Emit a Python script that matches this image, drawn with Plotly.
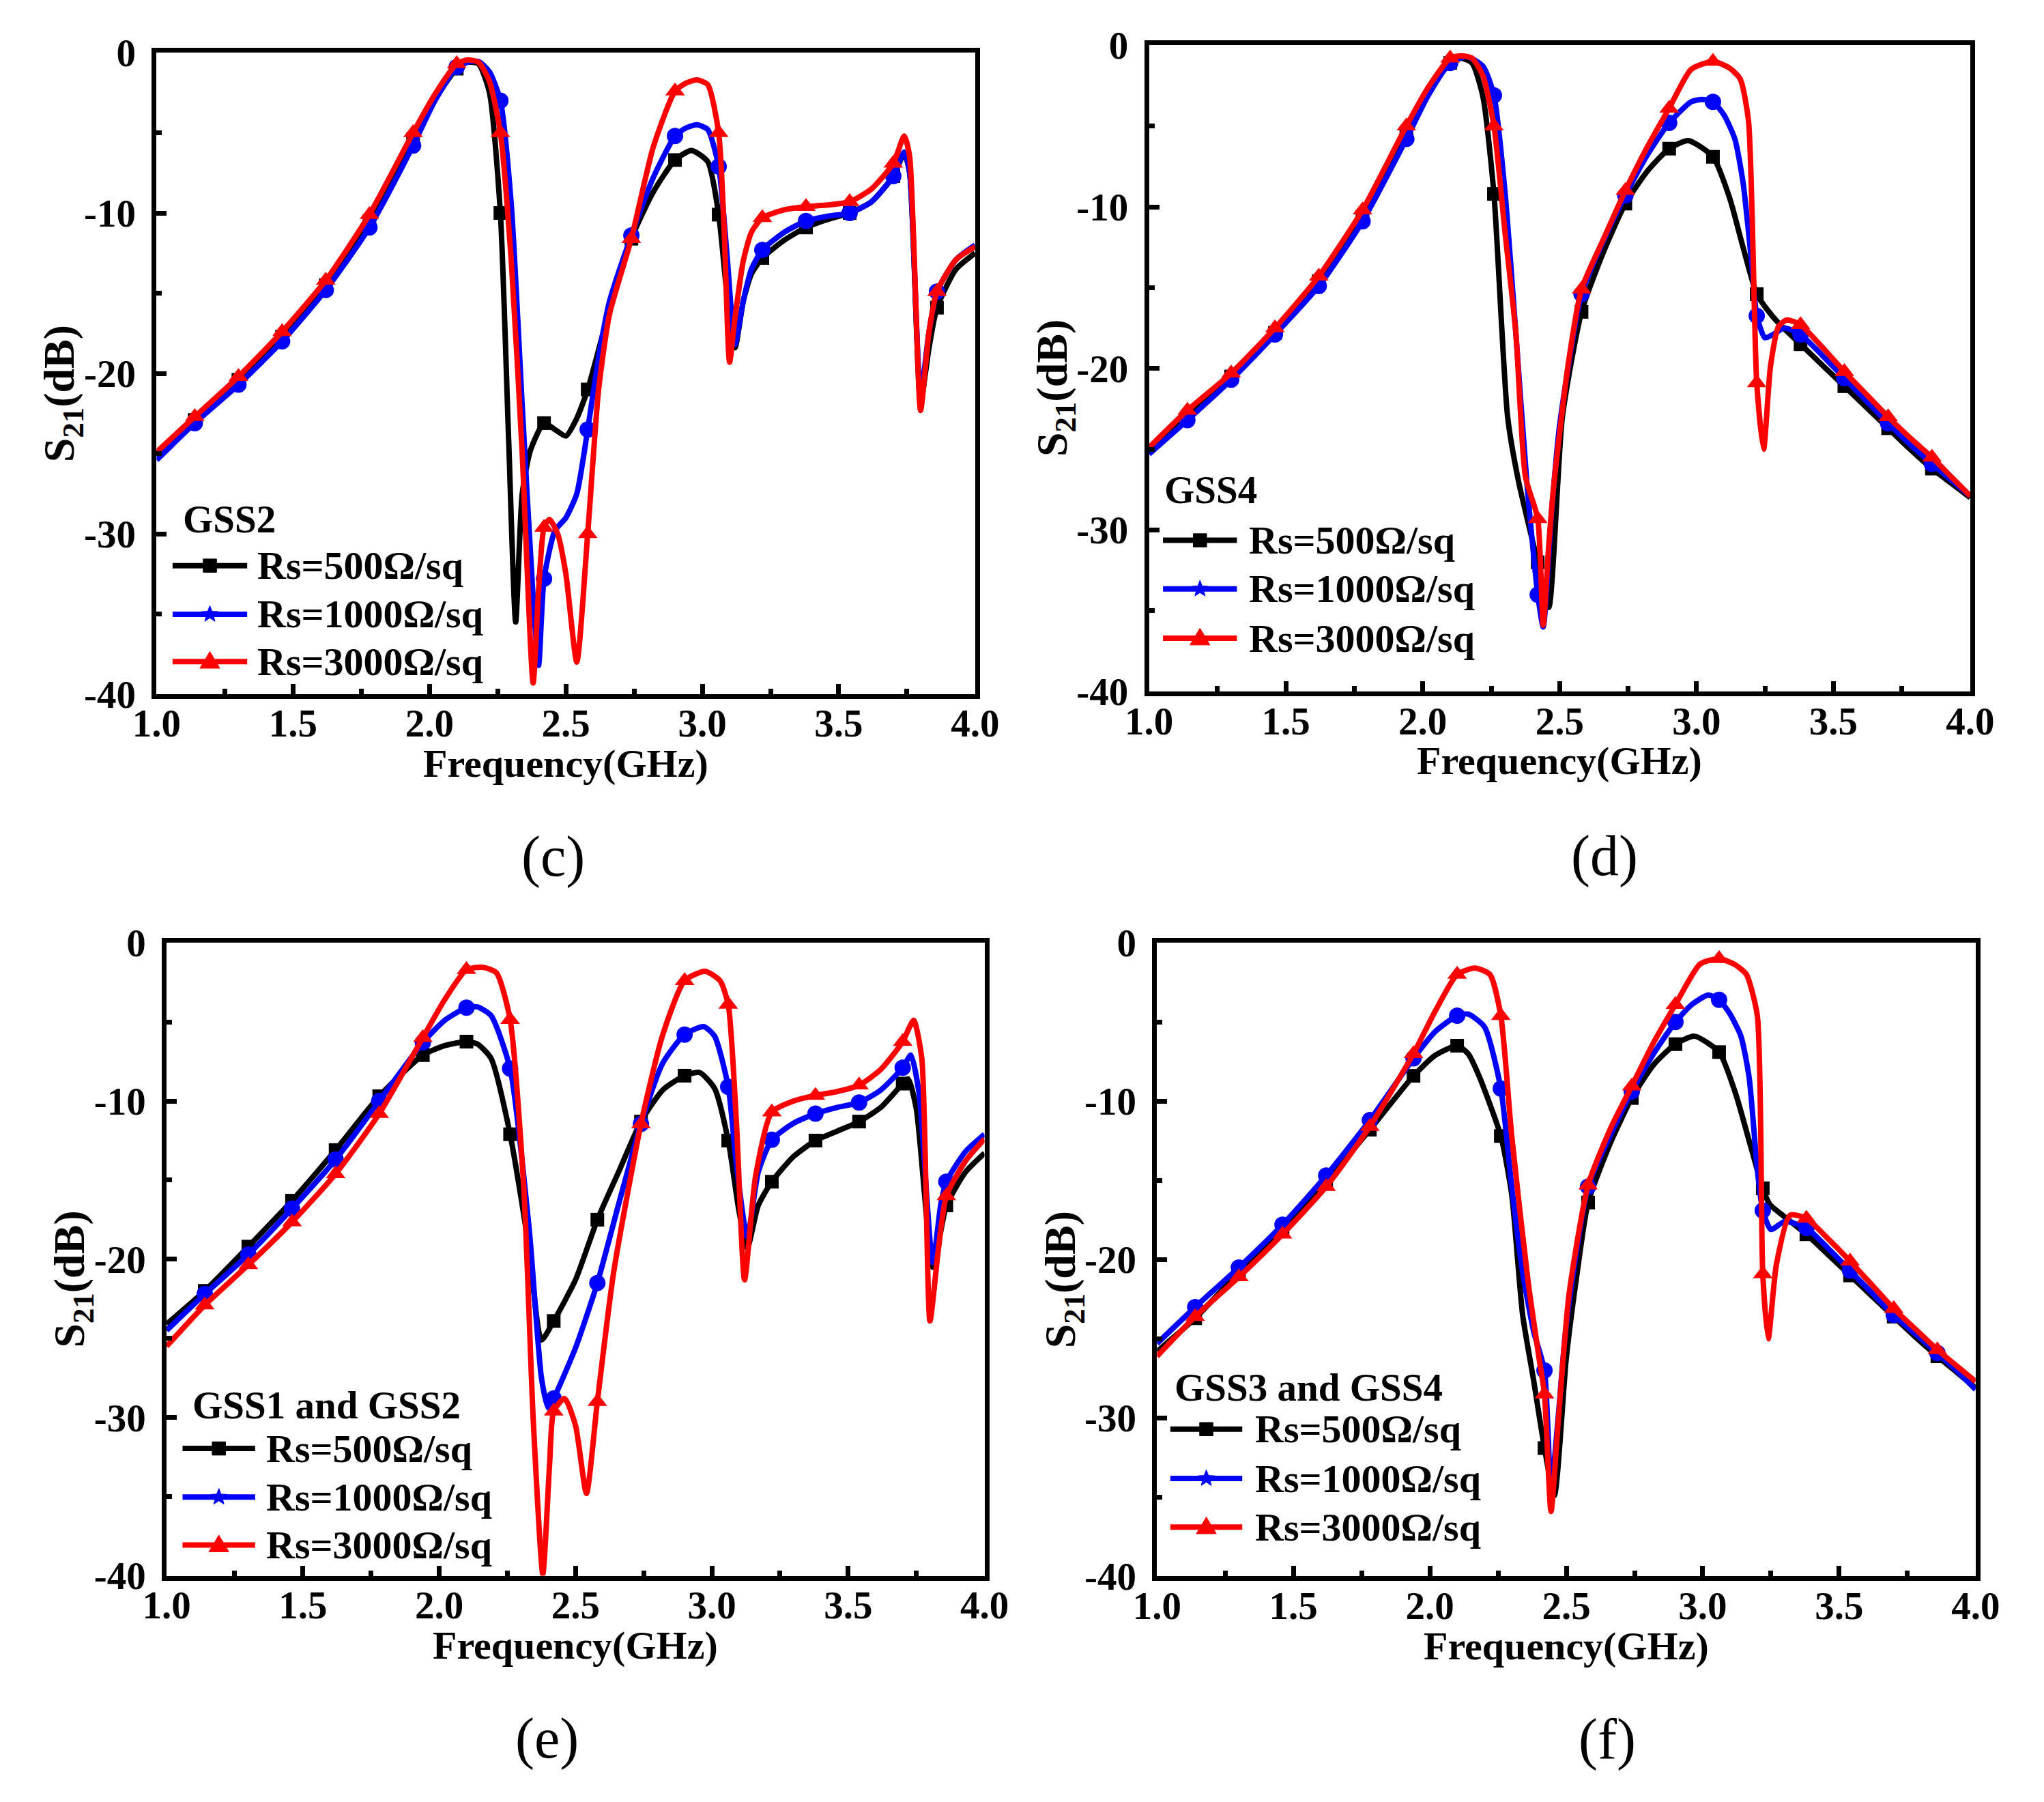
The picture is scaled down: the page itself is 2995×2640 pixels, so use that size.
"""
S21 vs frequency for four graphene sheet configurations, three sheet resistances each
"""
import numpy as np
import plotly.graph_objects as go

W, H = 2995, 2640
PAGE_MARGIN = 8  # the html body margin shifts the figure by this many px
FONT = "Liberation Serif"

# Frequencies (GHz) where the symbols sit on every curve
MARKER_F = [1.14, 1.30, 1.46, 1.62, 1.78, 1.94, 2.10, 2.26, 2.42, 2.58,
            2.74, 2.90, 3.06, 3.22, 3.38, 3.54, 3.70, 3.86]

X_TICKS = [1.0, 1.5, 2.0, 2.5, 3.0, 3.5, 4.0]
X_TICK_TEXT = ["1.0", "1.5", "2.0", "2.5", "3.0", "3.5", "4.0"]
Y_TICKS = [-40, -30, -20, -10, 0]
Y_TICK_TEXT = ["-40", "-30", "-20", "-10", "0"]

# ---- (c) GSS2 ----
F_C_500 = [1.00, 1.14, 1.30, 1.46, 1.62, 1.78, 1.94, 2.02, 2.10, 2.14, 2.18, 2.22, 2.26, 2.29, 2.316, 2.34,
           2.37, 2.42, 2.46, 2.50, 2.54, 2.58, 2.66, 2.74, 2.82, 2.90, 2.96, 3.02, 3.06, 3.09, 3.12, 3.15,
           3.18, 3.22, 3.30, 3.38, 3.46, 3.54, 3.62, 3.70, 3.74, 3.76, 3.80, 3.83, 3.86, 3.93, 4.00]
S_C_500 = [-25.0, -22.9, -20.4, -17.7, -14.5, -10.5, -5.4, -2.9, -1.0, -0.6, -0.7, -2.5, -10.0, -24.0, -35.5, -27.5,
           -24.8, -23.1, -23.5, -23.9, -22.8, -21.0, -16.0, -11.6, -8.7, -6.7, -6.1, -6.8, -10.1, -15.0, -18.4, -15.5,
           -13.8, -12.8, -11.7, -10.9, -10.4, -10.0, -9.3, -7.7, -6.3, -7.5, -21.8, -18.5, -15.9, -13.5, -12.5]
F_C_1000 = [1.00, 1.14, 1.30, 1.46, 1.62, 1.78, 1.94, 2.02, 2.10, 2.14, 2.18, 2.22, 2.26, 2.30, 2.34, 2.38,
            2.40, 2.42, 2.46, 2.50, 2.54, 2.58, 2.62, 2.66, 2.74, 2.82, 2.90, 2.94, 2.98, 3.02, 3.06, 3.09,
            3.12, 3.15, 3.18, 3.22, 3.30, 3.38, 3.46, 3.54, 3.62, 3.70, 3.74, 3.76, 3.80, 3.83, 3.86, 3.93, 4.00]
S_C_1000 = [-25.4, -23.1, -20.7, -18.0, -14.8, -10.9, -5.8, -3.0, -0.9, -0.6, -0.55, -1.2, -3.0, -9.5, -22.0, -34.0,
            -38.2, -32.8, -29.8, -29.0, -27.5, -23.5, -19.0, -15.5, -11.4, -7.8, -5.2, -4.7, -4.5, -4.8, -7.1, -12.5,
            -18.2, -15.5, -13.5, -12.3, -11.2, -10.5, -10.2, -10.0, -9.3, -7.7, -6.2, -7.5, -21.3, -17.5, -14.9, -12.9, -12.0]
F_C_3000 = [1.00, 1.14, 1.30, 1.46, 1.62, 1.78, 1.94, 2.02, 2.10, 2.14, 2.18, 2.22, 2.26, 2.30, 2.34, 2.38, 2.40,
            2.42, 2.44, 2.47, 2.50, 2.54, 2.58, 2.62, 2.66, 2.74, 2.82, 2.90, 2.94, 2.98, 3.02, 3.06, 3.08, 3.10,
            3.12, 3.15, 3.18, 3.22, 3.30, 3.38, 3.46, 3.54, 3.62, 3.70, 3.74, 3.76, 3.80, 3.83, 3.86, 3.93, 4.00]
S_C_3000 = [-24.9, -22.7, -20.2, -17.4, -14.2, -10.1, -5.0, -2.6, -0.7, -0.45, -0.6, -1.8, -5.0, -13.0, -25.0, -39.3, -33.5,
            -29.6, -29.1, -30.0, -32.5, -38.0, -30.0, -21.0, -16.3, -11.6, -5.9, -2.4, -1.9, -1.7, -2.0, -5.0, -11.0, -19.3,
            -16.5, -13.0, -11.2, -10.3, -9.8, -9.6, -9.5, -9.3, -8.5, -6.9, -5.2, -6.5, -22.3, -17.5, -14.9, -12.9, -12.1]

# ---- (d) GSS4 ----
F_D_500 = [1.00, 1.14, 1.30, 1.46, 1.62, 1.78, 1.94, 2.02, 2.10, 2.14, 2.18, 2.22, 2.26, 2.31, 2.35, 2.42, 2.46,
           2.51, 2.58, 2.66, 2.74, 2.82, 2.90, 2.97, 3.06, 3.12, 3.17, 3.22, 3.26, 3.30, 3.38, 3.46, 3.54, 3.62,
           3.70, 3.78, 3.86, 3.93, 4.00]
S_D_500 = [-25.1, -23.0, -20.5, -17.8, -14.6, -10.6, -5.5, -2.9, -1.1, -0.8, -1.1, -3.2, -9.2, -23.0, -27.0, -32.0, -34.8,
           -23.0, -16.5, -12.8, -9.8, -7.8, -6.4, -5.9, -6.9, -9.4, -12.5, -15.4, -16.4, -17.2, -18.5, -19.8, -21.1, -22.4,
           -23.7, -25.0, -26.2, -27.1, -28.0]
F_D_1000 = [1.00, 1.14, 1.30, 1.46, 1.62, 1.78, 1.94, 2.02, 2.10, 2.16, 2.22, 2.26, 2.30, 2.34, 2.38, 2.42, 2.44,
            2.47, 2.50, 2.58, 2.66, 2.74, 2.82, 2.90, 2.98, 3.02, 3.06, 3.10, 3.14, 3.17, 3.205, 3.22, 3.25, 3.28,
            3.32, 3.38, 3.46, 3.54, 3.62, 3.70, 3.78, 3.86, 3.93, 4.00]
S_D_1000 = [-25.3, -23.2, -20.7, -17.9, -14.9, -10.9, -5.8, -3.1, -1.1, -0.7, -1.3, -3.1, -9.0, -17.8, -27.0, -34.0, -36.0,
            -29.0, -23.5, -15.4, -12.1, -9.3, -6.8, -4.8, -3.5, -3.35, -3.5, -4.3, -5.8, -8.5, -14.1, -16.75, -18.1, -17.9,
            -17.5, -17.9, -19.2, -20.6, -22.0, -23.4, -24.7, -25.9, -26.9, -27.9]
F_D_3000 = [1.00, 1.14, 1.30, 1.46, 1.62, 1.78, 1.94, 2.02, 2.10, 2.14, 2.18, 2.22, 2.26, 2.30, 2.34, 2.375, 2.42,
            2.44, 2.46, 2.48, 2.53, 2.58, 2.66, 2.74, 2.82, 2.90, 2.98, 3.06, 3.12, 3.16, 3.19, 3.22, 3.245, 3.27,
            3.30, 3.33, 3.38, 3.46, 3.54, 3.62, 3.70, 3.78, 3.86, 3.93, 4.00]
S_D_3000 = [-24.9, -22.6, -20.3, -17.5, -14.3, -10.2, -5.0, -2.6, -0.8, -0.65, -0.8, -1.9, -5.0, -11.5, -17.8, -26.7, -29.3,
            -35.9, -31.0, -27.0, -19.9, -15.1, -12.0, -9.0, -6.3, -3.9, -1.5, -1.0, -1.4, -2.1, -4.7, -20.9, -25.0, -19.9,
            -17.4, -17.0, -17.3, -18.7, -20.2, -21.6, -23.0, -24.3, -25.5, -26.7, -27.9]

# ---- (e) GSS1 and GSS2 ----
F_E_500 = [1.00, 1.14, 1.30, 1.46, 1.62, 1.78, 1.94, 2.02, 2.10, 2.14, 2.19, 2.26, 2.33, 2.375, 2.42, 2.50, 2.58,
           2.66, 2.74, 2.82, 2.90, 2.955, 3.01, 3.06, 3.10, 3.13, 3.17, 3.22, 3.30, 3.38, 3.46, 3.54, 3.62, 3.70,
           3.72, 3.75, 3.81, 3.84, 3.86, 3.93, 4.00]
S_E_500 = [-24.1, -22.0, -19.2, -16.3, -13.1, -9.7, -7.1, -6.5, -6.25, -6.4, -7.3, -12.1, -19.4, -25.1, -23.9, -21.3, -17.5,
           -14.4, -11.3, -9.3, -8.4, -8.2, -9.2, -12.5, -17.0, -19.3, -16.6, -15.1, -13.5, -12.5, -11.9, -11.3, -10.4, -8.9,
           -8.6, -10.5, -20.5, -18.2, -16.6, -14.5, -13.3]
F_E_1000 = [1.00, 1.14, 1.30, 1.46, 1.62, 1.78, 1.94, 2.02, 2.10, 2.14, 2.19, 2.26, 2.33, 2.375, 2.40, 2.42, 2.50,
            2.58, 2.66, 2.74, 2.82, 2.90, 2.97, 3.01, 3.06, 3.09, 3.13, 3.17, 3.22, 3.30, 3.38, 3.46, 3.54, 3.62,
            3.70, 3.73, 3.76, 3.81, 3.84, 3.86, 3.93, 4.00]
S_E_1000 = [-24.5, -22.2, -19.7, -16.8, -13.7, -10.0, -6.3, -4.9, -4.1, -4.05, -4.6, -7.95, -18.1, -27.5, -29.4, -28.8, -25.6,
            -21.5, -16.4, -11.45, -7.6, -5.8, -5.3, -5.9, -9.1, -14.0, -18.6, -14.5, -12.45, -11.4, -10.8, -10.4, -10.1, -9.3,
            -7.9, -7.1, -9.5, -20.2, -16.5, -15.1, -13.2, -12.1]
F_E_3000 = [1.00, 1.14, 1.30, 1.46, 1.62, 1.78, 1.94, 2.02, 2.10, 2.16, 2.21, 2.26, 2.31, 2.345, 2.38, 2.405, 2.42,
            2.46, 2.50, 2.54, 2.58, 2.64, 2.74, 2.82, 2.90, 2.975, 3.03, 3.06, 3.09, 3.12, 3.16, 3.22, 3.30, 3.38,
            3.46, 3.54, 3.62, 3.70, 3.74, 3.77, 3.80, 3.83, 3.86, 3.93, 4.00]
S_E_3000 = [-25.5, -22.9, -20.35, -17.65, -14.6, -10.8, -6.0, -3.6, -1.7, -1.55, -1.9, -4.85, -15.4, -30.2, -39.9, -32.9, -29.6,
            -28.8, -30.5, -34.8, -29.0, -20.8, -11.45, -5.8, -2.4, -1.8, -2.4, -3.9, -11.3, -21.3, -14.8, -10.7, -10.0, -9.65,
            -9.4, -9.0, -8.0, -6.25, -4.9, -7.3, -23.9, -19.5, -16.0, -13.8, -12.4]

# ---- (f) GSS3 and GSS4 ----
F_F_500 = [1.00, 1.14, 1.30, 1.46, 1.62, 1.78, 1.94, 2.02, 2.10, 2.14, 2.18, 2.26, 2.30, 2.34, 2.38, 2.42, 2.456,
           2.50, 2.54, 2.58, 2.66, 2.74, 2.82, 2.90, 2.97, 3.06, 3.12, 3.17, 3.22, 3.245, 3.30, 3.38, 3.46, 3.54,
           3.62, 3.70, 3.78, 3.86, 3.93, 4.00]
S_F_500 = [-25.8, -23.7, -20.8, -18.1, -15.1, -11.8, -8.4, -7.1, -6.5, -7.0, -8.4, -12.2, -15.9, -23.5, -27.6, -31.9, -34.9,
           -26.2, -20.8, -16.4, -12.7, -9.8, -7.7, -6.4, -5.9, -6.9, -9.5, -12.5, -15.5, -16.5, -17.3, -18.4, -19.7, -21.0,
           -22.3, -23.6, -24.9, -26.1, -27.1, -28.1]
F_F_1000 = [1.00, 1.14, 1.30, 1.46, 1.62, 1.78, 1.94, 2.02, 2.10, 2.14, 2.20, 2.26, 2.30, 2.34, 2.38, 2.42, 2.444,
            2.47, 2.50, 2.58, 2.66, 2.74, 2.82, 2.90, 2.96, 3.02, 3.06, 3.10, 3.14, 3.17, 3.20, 3.22, 3.25, 3.30,
            3.38, 3.46, 3.54, 3.62, 3.70, 3.78, 3.86, 3.93, 4.00]
S_F_1000 = [-25.3, -23.0, -20.5, -17.8, -14.7, -11.2, -7.3, -5.6, -4.6, -4.5, -5.3, -9.2, -15.4, -20.8, -24.5, -27.0, -34.5,
            -30.0, -24.1, -15.4, -12.2, -9.4, -7.0, -5.0, -3.9, -3.3, -3.6, -4.5, -5.9, -8.5, -14.3, -16.9, -18.1, -17.6,
            -18.0, -19.3, -20.7, -22.1, -23.5, -24.7, -25.9, -27.0, -28.2]
F_F_3000 = [1.00, 1.14, 1.30, 1.46, 1.62, 1.78, 1.94, 2.02, 2.10, 2.165, 2.22, 2.26, 2.30, 2.36, 2.40, 2.42, 2.444,
            2.47, 2.51, 2.58, 2.66, 2.74, 2.82, 2.90, 2.99, 3.06, 3.12, 3.16, 3.20, 3.22, 3.24, 3.27, 3.32, 3.38,
            3.46, 3.54, 3.62, 3.70, 3.78, 3.86, 3.93, 4.00]
S_F_3000 = [-26.1, -23.6, -21.1, -18.4, -15.4, -11.6, -7.0, -4.3, -2.0, -1.6, -2.0, -4.6, -12.2, -21.4, -26.2, -28.5, -35.9,
            -30.3, -22.2, -15.3, -11.8, -9.05, -6.3, -3.9, -1.35, -1.0, -1.4, -2.0, -4.6, -20.9, -25.0, -20.3, -17.2, -17.4,
            -18.7, -20.1, -21.6, -23.1, -24.4, -25.7, -26.7, -27.7]

SERIES_NAMES = ["Rs=500Ω/sq", "Rs=1000Ω/sq", "Rs=3000Ω/sq"]
COLORS = ["#000000", "#0000FF", "#FF0000"]
SYMBOLS = ["square", "circle", "triangle-up"]
SIZES = [20, 24, 25]

# panel: caption, legend title, curves, plot box in px (left, top, right, bottom),
# legend offsets in px (title dx, title dy, line x0, line x1, text dx, entry dys), caption centre
PANELS = [
    dict(cap="(c)", title="GSS2", box=(195, 44, 1430, 1013),
         curves=[(F_C_500, S_C_500), (F_C_1000, S_C_1000), (F_C_3000, S_C_3000)],
         leg=(40, 266, 27, 139, 152, (196, 123, 52)), cap_xy=(793, 1254)),
    dict(cap="(d)", title="GSS4", box=(1685, 33, 2924, 1009),
         curves=[(F_D_500, S_D_500), (F_D_1000, S_D_1000), (F_D_3000, S_D_3000)],
         leg=(24, 306, 24, 135, 151, (230, 157, 83)), cap_xy=(2372, 1253)),
    dict(cap="(e)", title="GSS1 and GSS2", box=(210, 1380, 1444, 2336),
         curves=[(F_E_500, S_E_500), (F_E_1000, S_E_1000), (F_E_3000, S_E_3000)],
         leg=(40, 259, 27, 136, 150, (194, 121, 49)), cap_xy=(784, 2577)),
    dict(cap="(f)", title="GSS3 and GSS4", box=(1697, 1380, 2932, 2337),
         curves=[(F_F_500, S_F_500), (F_F_1000, S_F_1000), (F_F_3000, S_F_3000)],
         leg=(27, 287, 23, 131, 148, (224, 150, 77)), cap_xy=(2376, 2578)),
]


def px(x):
    return (x - PAGE_MARGIN) / W


def py(y):
    return 1 - (y - PAGE_MARGIN) / H


def marker_points(freqs, s21):
    """Pick the samples that carry a symbol"""
    freqs = np.asarray(freqs)
    s21 = np.asarray(s21)
    keep = np.isin(np.round(freqs, 3), np.round(MARKER_F, 3))
    return freqs[keep], s21[keep]


def symbol_shape(kind, cx, cy, color):
    """Legend symbol drawn as a paper-referenced shape, sizes in px"""
    if kind == "square":
        pts = [(-10, -10), (10, -10), (10, 10), (-10, 10)]
    elif kind == "triangle-up":
        pts = [(-15, 10), (15, 10), (0, -15)]
    else:
        pts = []
        for k in range(10):
            r = 13 if k % 2 == 0 else 5.5
            a = -np.pi / 2 + k * np.pi / 5
            pts.append((r * np.cos(a), r * np.sin(a)))
    path = "M" + " L".join("{:.5f},{:.5f}".format(px(cx + dx), py(cy + dy)) for dx, dy in pts) + " Z"
    return dict(type="path", xref="paper", yref="paper", path=path,
                fillcolor=color, line=dict(color=color, width=1))


fig = go.Figure()
shapes = []
annotations = []
LEGEND_SYMBOLS = ["square", "star", "triangle-up"]

for n, panel in enumerate(PANELS, start=1):
    xa = "x" if n == 1 else "x{}".format(n)
    ya = "y" if n == 1 else "y{}".format(n)
    left, top, right, bottom = panel["box"]
    for (freqs, s21), name, color, symbol, size in zip(panel["curves"], SERIES_NAMES, COLORS, SYMBOLS, SIZES):
        if len(freqs) != len(s21):
            raise ValueError("length mismatch in {} {}".format(panel["cap"], name))
        fig.add_trace(go.Scatter(x=freqs, y=s21, mode="lines", xaxis=xa, yaxis=ya, name=name,
                                 line=dict(color=color, width=8, shape="spline", smoothing=0.6),
                                 showlegend=False, hoverinfo="skip"))
        mx, my = marker_points(freqs, s21)
        fig.add_trace(go.Scatter(x=mx, y=my, mode="markers", xaxis=xa, yaxis=ya, name=name,
                                 marker=dict(color=color, symbol=symbol, size=size, line=dict(width=0)),
                                 showlegend=False))

    axis_common = dict(showline=True, linewidth=7, linecolor="black", mirror=True, showgrid=False,
                       zeroline=False, ticks="inside", ticklen=15, tickwidth=7, tickcolor="black",
                       tickmode="array",
                       tickfont=dict(family=FONT, size=57, color="black", weight="bold"))
    fig.layout["xaxis{}".format(n)] = dict(
        axis_common, domain=[px(left + 3), px(right - 3)], anchor=ya, range=[1.0, 4.0],
        tickvals=X_TICKS, ticktext=X_TICK_TEXT, ticklabelstandoff=-13,
        minor=dict(ticks="inside", ticklen=8, tickwidth=7, tickcolor="black", tickmode="array",
                   tickvals=[1.25, 1.75, 2.25, 2.75, 3.25, 3.75]))
    fig.layout["yaxis{}".format(n)] = dict(
        axis_common, domain=[py(bottom - 3), py(top + 3)], anchor=xa, range=[-40, 0],
        tickvals=Y_TICKS, ticktext=Y_TICK_TEXT, ticklabelstandoff=12,
        minor=dict(ticks="inside", ticklen=8, tickwidth=7, tickcolor="black", tickmode="array",
                   tickvals=[-35, -25, -15, -5]))

    # axis titles
    annotations.append(dict(text="Frequency(GHz)", xref="paper", yref="paper",
                            x=px((left + right) / 2), y=py(bottom + 101), xanchor="center", yanchor="middle",
                            showarrow=False, font=dict(family=FONT, size=58, color="black", weight="bold")))
    annotations.append(dict(text="S<sub>21</sub>(dB)", xref="paper", yref="paper", textangle=-90,
                            x=px(left - 138), y=py((top + bottom) / 2 + 30), xanchor="center", yanchor="middle",
                            showarrow=False, font=dict(family=FONT, size=64, color="black", weight="bold")))
    # caption
    cx, cy = panel["cap_xy"]
    annotations.append(dict(text=panel["cap"], xref="paper", yref="paper", x=px(cx), y=py(cy),
                            xanchor="center", yanchor="middle", showarrow=False,
                            font=dict(family=FONT, size=84, color="black")))

    # legend block
    tdx, tdy, lx0, lx1, txt_dx, dys = panel["leg"]
    annotations.append(dict(text=panel["title"], xref="paper", yref="paper", x=px(left + tdx), y=py(bottom - tdy),
                            xanchor="left", yanchor="middle", showarrow=False,
                            font=dict(family=FONT, size=57, color="black", weight="bold")))
    for name, color, sym, dy in zip(SERIES_NAMES, COLORS, LEGEND_SYMBOLS, dys):
        yy = bottom - dy
        shapes.append(dict(type="line", xref="paper", yref="paper", x0=px(left + lx0), x1=px(left + lx1),
                           y0=py(yy), y1=py(yy), line=dict(color=color, width=8)))
        shapes.append(symbol_shape(sym, left + (lx0 + lx1) / 2, yy, color))
        annotations.append(dict(text=name, xref="paper", yref="paper", x=px(left + txt_dx), y=py(yy),
                                xanchor="left", yanchor="middle", showarrow=False,
                                font=dict(family=FONT, size=58, color="black", weight="bold")))

fig.update_layout(width=W, height=H, margin=dict(l=0, r=0, t=0, b=0),
                  plot_bgcolor="white", paper_bgcolor="white", showlegend=False,
                  shapes=shapes, annotations=annotations)

fig.write_html("out.html")
